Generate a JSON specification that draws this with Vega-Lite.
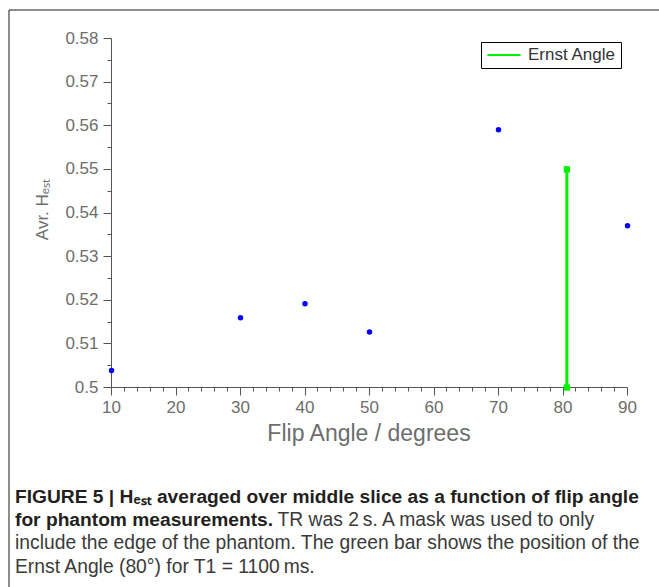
{
  "$schema": "https://vega.github.io/schema/vega-lite/v6.json",
  "width": 660.5,
  "height": 600,
  "autosize": {"type": "none"},
  "padding": {"left": 8.5, "top": 9.5, "right": -10, "bottom": -22.5},
  "background": "white",
  "title": {
    "text": ["FIGURE 5 | Hₑₛₜ averaged over middle slice as a function of flip angle", "for phantom measurements."],
    "subtitle": ["\u200b\u00a0\u00a0\u00a0\u00a0\u00a0\u00a0\u00a0\u00a0\u00a0\u00a0\u00a0\u00a0\u00a0\u00a0\u00a0\u00a0\u00a0\u00a0\u00a0\u00a0\u00a0\u00a0\u00a0\u00a0\u00a0\u00a0\u00a0\u00a0\u00a0\u00a0\u00a0\u00a0\u00a0\u00a0\u00a0\u00a0\u00a0\u00a0\u00a0\u00a0\u00a0\u00a0\u00a0\u00a0\u00a0\u00a0\u00a0\u00a0\u00a0TR was 2\u2009s. A mask was used to only", "include the edge of the phantom. The green bar shows the position of the", "Ernst Angle (80°) for T1 = 1100\u2009ms."],
    "orient": "bottom",
    "anchor": "start",
    "frame": "group",
    "offset": -122,
    "dx": 6.5,
    "font": "Liberation Sans",
    "fontSize": 19.2,
    "fontWeight": "bold",
    "color": "#231f20",
    "lineHeight": 23.3,
    "subtitleFont": "Liberation Sans",
    "subtitleFontSize": 19.3,
    "subtitleFontWeight": "normal",
    "subtitleColor": "#3a3a3a",
    "subtitleLineHeight": 23.3,
    "subtitlePadding": -19
  },
  "config": {
    "view": {"stroke": "#1a1a1a", "strokeWidth": 1},
    "axis": {
      "grid": false,
      "domain": false,
      "translate": 0,
      "tickColor": "#555555",
      "tickWidth": 1,
      "labelColor": "#6d6d6d",
      "labelFont": "Liberation Sans",
      "labelFontSize": 17,
      "titleFont": "Liberation Sans",
      "titleColor": "#6d6d6d",
      "titleFontWeight": "normal"
    }
  },
  "datasets": {
    "hest": [
      {"angle": 10, "hest": 0.5039},
      {"angle": 30, "hest": 0.516},
      {"angle": 40, "hest": 0.5192},
      {"angle": 50, "hest": 0.5127},
      {"angle": 70, "hest": 0.5591},
      {"angle": 90, "hest": 0.5371}
    ],
    "ernst": [
      {"angle": 80.6, "lo": 0.5, "hi": 0.55, "series": "Ernst Angle"}
    ]
  },
  "resolve": {"axis": {"x": "independent", "y": "independent"}},
  "layer": [
    {
      "data": {"values": [{}]},
      "mark": {"type": "rule", "color": "#555555", "strokeWidth": 1},
      "encoding": {
        "x": {
          "datum": 10,
          "type": "quantitative",
          "scale": {"domain": [-5.969, 96.434], "nice": false, "zero": false},
          "axis": {"orient": "bottom", "offset": -222, "values": [12, 14, 16, 18, 22, 24, 26, 28, 32, 34, 36, 38, 42, 44, 46, 48, 52, 54, 56, 58, 62, 64, 66, 68, 72, 74, 76, 78, 82, 84, 86, 88], "tickSize": 4, "labels": false, "title": null}
        },
        "y": {
          "datum": 0.5,
          "type": "quantitative",
          "scale": {"domain": [0.449112, 0.586648], "nice": false, "zero": false},
          "axis": {"orient": "left", "offset": -103, "values": [0.505, 0.515, 0.525, 0.535, 0.545, 0.555, 0.565, 0.575], "tickSize": 4, "labels": false, "title": null}
        },
        "y2": {"datum": 0.58}
      }
    },
    {
      "data": {"values": [{}]},
      "mark": {"type": "rule", "color": "#555555", "strokeWidth": 1},
      "encoding": {
        "x": {"datum": 10, "type": "quantitative", "axis": null},
        "x2": {"datum": 90},
        "y": {"datum": 0.5, "type": "quantitative", "axis": null}
      }
    },
    {
      "data": {"name": "hest"},
      "mark": {"type": "circle", "color": "#0000ff", "size": 30, "opacity": 1},
      "encoding": {
        "x": {
          "field": "angle",
          "type": "quantitative",
          "scale": {"domain": [-5.969, 96.434], "nice": false, "zero": false},
          "axis": {"orient": "bottom", "offset": -222, "values": [10, 20, 30, 40, 50, 60, 70, 80, 90], "tickSize": 8, "labelPadding": 4, "title": "Flip Angle / degrees", "titleFontSize": 23, "titleX": 360.5, "titleY": 53, "titleBaseline": "alphabetic"}
        },
        "y": {
          "field": "hest",
          "type": "quantitative",
          "scale": {"domain": [0.449112, 0.586648], "nice": false, "zero": false},
          "axis": {"orient": "left", "offset": -103, "values": [0.5, 0.51, 0.52, 0.53, 0.54, 0.55, 0.56, 0.57, 0.58], "format": ".2~f", "tickSize": 8, "labelPadding": 5, "title": "Avr. Hₑₛₜ", "titleFontSize": 17, "titleX": -59.5, "titleY": 200, "titleAngle": 270, "titleBaseline": "bottom"}
        }
      }
    },
    {
      "data": {"name": "ernst"},
      "mark": {"type": "rule", "strokeWidth": 3},
      "encoding": {
        "x": {"field": "angle", "type": "quantitative", "axis": null},
        "y": {"field": "lo", "type": "quantitative", "axis": null},
        "y2": {"field": "hi"},
        "color": {
          "field": "series",
          "type": "nominal",
          "scale": {"domain": ["Ernst Angle"], "range": ["#00f000"]},
          "legend": {
            "orient": "none",
            "legendX": 472.5,
            "legendY": 32.5,
            "title": null,
            "strokeColor": "#000000",
            "fillColor": "white",
            "padding": 5,
            "symbolType": "stroke",
            "symbolStrokeWidth": 2,
            "symbolSize": 1100,
            "clipHeight": 16,
            "labelFont": "Liberation Sans",
            "labelFontSize": 17,
            "labelColor": "#333333",
            "labelOffset": 6
          }
        }
      }
    },
    {
      "data": {"name": "ernst"},
      "mark": {"type": "square", "color": "#00f000", "size": 40, "opacity": 1},
      "encoding": {
        "x": {"field": "angle", "type": "quantitative", "axis": null},
        "y": {"field": "lo", "type": "quantitative", "axis": null}
      }
    },
    {
      "data": {"name": "ernst"},
      "mark": {"type": "square", "color": "#00f000", "size": 40, "opacity": 1},
      "encoding": {
        "x": {"field": "angle", "type": "quantitative", "axis": null},
        "y": {"field": "hi", "type": "quantitative", "axis": null}
      }
    }
  ]
}
